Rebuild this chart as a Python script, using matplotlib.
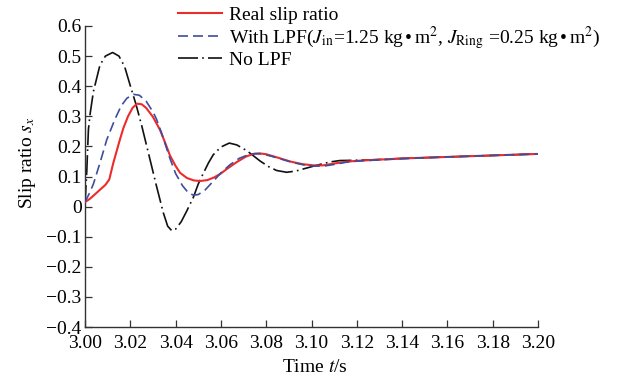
import matplotlib

matplotlib.use("Agg")

from matplotlib import pyplot as plt

# Values.
t_real = [3.000, 3.002, 3.004, 3.0066, 3.009, 3.0107, 3.0125, 3.014, 3.0155,
          3.017, 3.019, 3.021, 3.023, 3.025, 3.027, 3.030, 3.0331, 3.0355,
          3.0375, 3.040, 3.042, 3.045, 3.048, 3.0508, 3.054, 3.057, 3.0596,
          3.063, 3.067, 3.071, 3.0743, 3.077, 3.080, 3.085, 3.0905, 3.096,
          3.1008, 3.105, 3.110, 3.115, 3.120, 3.127, 3.140, 3.160, 3.180,
          3.200]
s_real = [0.015, 0.025, 0.038, 0.056, 0.072, 0.090, 0.145, 0.185, 0.225,
          0.262, 0.300, 0.328, 0.342, 0.340, 0.328, 0.298, 0.255, 0.210,
          0.170, 0.135, 0.112, 0.095, 0.087, 0.085, 0.088, 0.097, 0.108,
          0.127, 0.148, 0.166, 0.175, 0.177, 0.174, 0.163, 0.150, 0.141,
          0.137, 0.137, 0.143, 0.149, 0.152, 0.155, 0.160, 0.165, 0.170,
          0.175]

t_lpf = [3.000, 3.002, 3.0037, 3.0066, 3.0096, 3.0132, 3.016, 3.0185, 3.0213,
         3.024, 3.027, 3.030, 3.0316, 3.034, 3.0375, 3.040, 3.043, 3.0455,
         3.0478, 3.050, 3.053, 3.0566, 3.060, 3.064, 3.068, 3.072, 3.075,
         3.078, 3.082, 3.087, 3.092, 3.097, 3.101, 3.105, 3.110, 3.115,
         3.120, 3.127, 3.140, 3.160, 3.180, 3.200]
s_lpf = [0.015, 0.045, 0.075, 0.145, 0.222, 0.290, 0.335, 0.360, 0.373,
         0.370, 0.350, 0.315, 0.290, 0.240, 0.160, 0.110, 0.070, 0.047,
         0.038, 0.040, 0.055, 0.084, 0.112, 0.139, 0.160, 0.172, 0.176,
         0.175, 0.168, 0.157, 0.146, 0.138, 0.135, 0.134, 0.140, 0.147,
         0.151, 0.154, 0.159, 0.165, 0.170, 0.175]

t_nolpf = [3.000, 3.0008, 3.0015, 3.0022, 3.0037, 3.0066, 3.009, 3.0122,
           3.015, 3.0175, 3.0199, 3.0225, 3.025, 3.028, 3.0316, 3.0346,
           3.0365, 3.0383, 3.040, 3.0425, 3.0449, 3.0478, 3.050, 3.0522,
           3.0545, 3.0566, 3.060, 3.0637, 3.067, 3.0714, 3.0745, 3.0772,
           3.081, 3.0846, 3.089, 3.093, 3.0978, 3.1037, 3.108, 3.1125,
           3.120, 3.126, 3.140, 3.160, 3.180, 3.200]
s_nolpf = [0.005, 0.120, 0.255, 0.305, 0.382, 0.470, 0.500, 0.512, 0.500,
           0.465, 0.404, 0.340, 0.270, 0.178, 0.067, -0.021, -0.065, -0.080,
           -0.075, -0.050, -0.015, 0.030, 0.075, 0.110, 0.145, 0.172, 0.198,
           0.211, 0.205, 0.186, 0.168, 0.152, 0.133, 0.120, 0.114, 0.118,
           0.128, 0.140, 0.148, 0.153, 0.154, 0.155, 0.160, 0.165, 0.170,
           0.175]

x_ticks = [3.00, 3.02, 3.04, 3.06, 3.08, 3.10, 3.12, 3.14, 3.16, 3.18, 3.20]
x_labels = ["3.00", "3.02", "3.04", "3.06", "3.08", "3.10", "3.12", "3.14",
            "3.16", "3.18", "3.20"]
y_ticks = [0.6, 0.5, 0.4, 0.3, 0.2, 0.1, 0.0, -0.1, -0.2, -0.3, -0.4]
y_labels = ["0.6", "0.5", "0.4", "0.3", "0.2", "0.1", "0",
            "\u22120.1", "\u22120.2", "\u22120.3", "\u22120.4"]

RED = "#ee2b2b"
BLUE = "#3e4d9e"
BLACK = "#111111"
AXIS = "#333333"
FS = 14

plt.rcParams.update({
    "font.family": ["Liberation Serif", "DejaVu Serif"],
    "mathtext.fontset": "stix",
    "font.size": FS,
    "axes.unicode_minus": True,
})

fig = plt.figure(figsize=(6.35, 3.78), dpi=100, facecolor="white")
ax = fig.add_axes([85 / 635, 1 - 327 / 378, 453 / 635, 301 / 378])

ax.plot(t_nolpf, s_nolpf, color=BLACK, linewidth=1.2,
        linestyle=(0, (12, 2.5, 1, 2.5)), label="No LPF", zorder=2)
ax.plot(t_real, s_real, color=RED, linewidth=1.5,
        label="Real slip ratio", zorder=3)
ax.plot(t_lpf, s_lpf, color=BLUE, linewidth=1.2, linestyle=(0, (6, 3)),
        label="With LPF($J_{\\rm in}$=1.25 kg$\\,$\u2022$\\,$m$^2$, "
              "$J_{\\rm Ring}$ =0.25 kg$\\,$\u2022$\\,$m$^2$)", zorder=4)

ax.set_xlim(3.00, 3.20)
ax.set_ylim(-0.4, 0.6)
ax.set_xticks(x_ticks)
ax.set_xticklabels(x_labels)
ax.set_yticks(y_ticks)
ax.set_yticklabels(y_labels)

for side in ("top", "right"):
    ax.spines[side].set_visible(False)
for side in ("left", "bottom"):
    ax.spines[side].set_color(AXIS)
    ax.spines[side].set_linewidth(1.0)
ax.tick_params(direction="in", length=5, width=0.9, color=AXIS,
               labelsize=FS)
ax.tick_params(axis="x", pad=6)
ax.tick_params(axis="y", pad=2.5)

fig.text(315 / 635, 1 - 368 / 378, "Time $t$/s", fontsize=FS,
         ha="center", va="center")
fig.text(28 / 635, 1 - 163 / 378, "Slip ratio $s_x$", fontsize=FS,
         ha="center", va="center", rotation=90)

handles, labels = ax.get_legend_handles_labels()
order = [1, 2, 0]
fig.legend([handles[i] for i in order], [labels[i] for i in order],
           loc="upper left", bbox_to_anchor=(164 / 635, 1.02),
           frameon=False, fontsize=FS, handlelength=2.3,
           handletextpad=0.35, labelspacing=0.0, borderpad=0.2)

fig.savefig("out.png", dpi=100, facecolor="white")
